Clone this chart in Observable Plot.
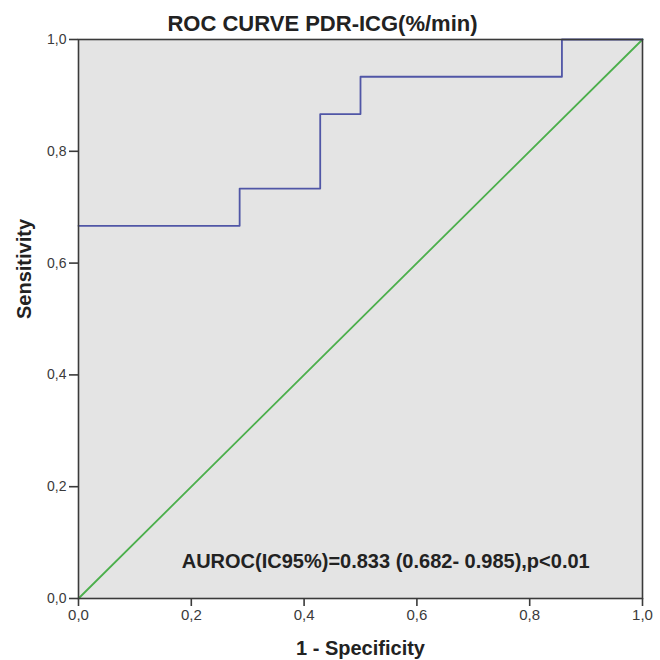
<!DOCTYPE html>
<html>
<head>
<meta charset="utf-8">
<script src="https://cdn.jsdelivr.net/npm/d3@7"></script>
<script src="https://cdn.jsdelivr.net/npm/@observablehq/plot@0.6"></script>
<style>
  html, body { margin: 0; padding: 0; background: #fff; }
  svg { font-family: "Liberation Sans", Arial, sans-serif; }
</style>
</head>
<body>
<div id="chart"></div>
<script>
// ROC curve points (1 - specificity, sensitivity)
const fpr = [0, 4/14, 4/14, 6/14, 6/14, 7/14, 7/14, 12/14, 12/14, 1];
const tpr = [10/15, 10/15, 11/15, 11/15, 13/15, 13/15, 14/15, 14/15, 1, 1];
// reference diagonal
const diagX = [0, 1];
const diagY = [0, 1];
const ticks = [0, 0.2, 0.4, 0.6, 0.8, 1.0];
const titleText = "ROC CURVE PDR-ICG(%/min)";
const annotation = "AUROC(IC95%)=0.833 (0.682- 0.985),p<0.01";
const annX = [0.183];
const annY = [0.066];

const roc = fpr.map((x, i) => ({x, y: tpr[i]}));
const diag = diagX.map((x, i) => ({x, y: diagY[i]}));
const fmt = d => d.toFixed(1).replace(".", ",");

const chart = Plot.plot({
  width: 660,
  height: 660,
  marginLeft: 78,
  marginRight: 18,
  marginTop: 39,
  marginBottom: 62,
  style: {fontFamily: '"Liberation Sans", Arial, sans-serif', background: "#fff"},
  x: {domain: [0, 1], ticks, tickFormat: fmt, label: null},
  y: {domain: [0, 1], ticks, tickFormat: fmt, label: null},
  marks: [
    Plot.frame({fill: "#e4e4e4", stroke: null}),
    Plot.line(diag, {x: "x", y: "y", stroke: "#4caf4c", strokeWidth: 1.8}),
    Plot.line(roc, {x: "x", y: "y", stroke: "#5056a6", strokeWidth: 1.8}),
    Plot.frame({stroke: "#3a3a3a", strokeWidth: 1.6}),
    Plot.axisX({ticks, tickFormat: fmt, tickSize: 8, tickPadding: 3, fontSize: 15, fill: "#3a3a3a", stroke: "#3a3a3a", strokeWidth: 1.6, label: null}),
    Plot.axisY({ticks, tickFormat: fmt, tickSize: 9, tickPadding: 3, fontSize: 14, fill: "#3a3a3a", stroke: "#3a3a3a", strokeWidth: 1.6, label: null}),
    Plot.text([annotation], {x: annX, y: annY, text: d => d, textAnchor: "start", fontSize: 20, fontWeight: "bold", fill: "#222"}),
    Plot.text([titleText], {frameAnchor: "top", lineAnchor: "middle", dy: -16, dx: -38, text: d => d, fontSize: 22, fontWeight: "bold", fill: "#222"}),
    Plot.text(["1 - Specificity"], {frameAnchor: "bottom", lineAnchor: "middle", dy: 50, text: d => d, fontSize: 20, fontWeight: "bold", fill: "#222"}),
    Plot.text(["Sensitivity"], {frameAnchor: "left", dx: -54, rotate: -90, text: d => d, fontSize: 20, fontWeight: "bold", fill: "#222"})
  ]
});
document.getElementById("chart").appendChild(chart);
</script>
</body>
</html>
